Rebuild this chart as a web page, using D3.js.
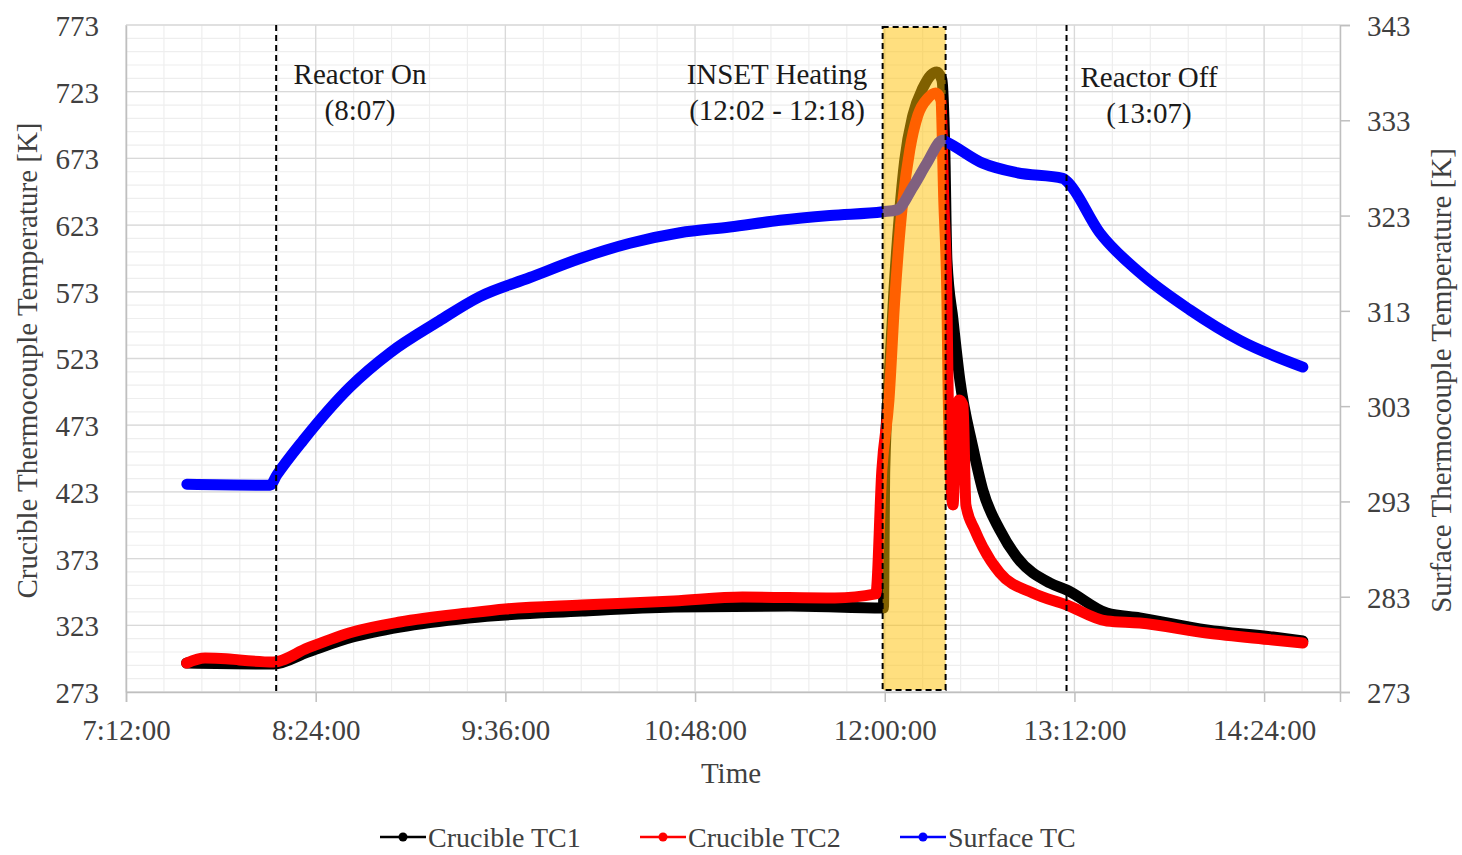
<!DOCTYPE html>
<html>
<head>
<meta charset="utf-8">
<script src="https://cdn.jsdelivr.net/npm/d3@7"></script>
<style>
  body { margin: 0; background: #fff; }
  svg { font-family: "Liberation Serif", "Times New Roman", serif; }
</style>
</head>
<body>
<div id="grafiek"></div>
<script>

// tijden en waarden
var tc1Tijd = ["7:35:00", "8:08:00", "8:21:00", "8:38:00", "8:56:00", "9:22:00", "10:05:00", "10:40:00",
  "11:24:00", "11:59:30", "12:00:00", "12:01:36", "12:03:30", "12:05:24", "12:07:36", "12:10:42",
  "12:14:30", "12:17:30", "12:19:48", "12:21:42", "12:22:48", "12:23:36", "12:25:54", "12:28:30",
  "12:33:24", "12:37:12", "12:43:42", "12:50:06", "13:02:42", "13:09:06", "13:24:18", "13:36:48",
  "14:02:12", "14:27:18", "14:38:42"];
var tc1Waarde = [294.7, 294.0, 303.0, 314.2, 321.7, 328.5, 333.7, 336.7,
  337.5, 336.0, 439.4, 506.9, 574.4, 626.8, 671.8, 705.5,
  725.8, 735.5, 737.8, 731.8, 679.3, 596.8, 551.9, 506.9,
  456.7, 424.4, 394.4, 374.2, 354.7, 349.5, 332.2, 328.5,
  319.5, 314.2, 311.2];

var tc2Tijd = ["7:35:00", "7:42:00", "7:50:00", "7:55:00", "8:08:00", "8:21:00", "8:38:00", "8:56:00",
  "9:22:00", "9:36:00", "10:05:00", "10:40:00", "11:06:00", "11:41:00", "11:56:36", "11:58:54",
  "12:01:36", "12:03:48", "12:06:54", "12:09:30", "12:12:36", "12:16:24", "12:19:24", "12:21:18",
  "12:22:24", "12:23:36", "12:24:00", "12:24:48", "12:25:54", "12:27:00", "12:28:12", "12:29:42",
  "12:30:48", "12:34:12", "12:37:12", "12:43:42", "12:56:12", "13:09:06", "13:24:18", "13:36:48",
  "14:02:12", "14:27:18", "14:38:42"];
var tc2Waarde = [294.7, 298.5, 298.0, 297.0, 295.5, 306.0, 318.0, 325.5,
  332.2, 335.2, 338.2, 341.2, 344.2, 343.5, 346.5, 439.4,
  491.9, 566.9, 641.8, 679.3, 705.5, 718.3, 722.0, 716.8,
  641.8, 566.9, 506.9, 439.4, 413.2, 469.4, 491.9, 488.2,
  413.2, 394.4, 381.7, 362.2, 347.2, 338.2, 326.2, 324.7,
  317.2, 312.0, 309.7];

var oppTijd = ["7:35:06", "8:06:40", "8:09:18", "8:19:12", "8:37:00", "8:52:12", "9:10:00", "9:26:20",
  "9:45:20", "10:04:20", "10:23:16", "10:42:14", "11:01:14", "11:20:12", "11:39:10", "11:59:18",
  "12:04:36", "12:10:42", "12:16:00", "12:22:00", "12:23:36", "12:37:12", "12:50:06", "13:07:36",
  "13:09:06", "13:21:36", "13:36:48", "13:55:48", "14:14:48", "14:38:42"];
var oppWaarde = [294.8, 294.7, 295.8, 299.4, 305.0, 308.6, 311.8, 314.5,
  316.5, 318.5, 320.1, 321.2, 321.8, 322.5, 323.0, 323.4,
  323.6, 326.0, 328.5, 330.9, 330.7, 328.5, 327.5, 326.9,
  326.6, 321.2, 317.0, 313.1, 309.9, 307.1];

var tijdLabels = ["7:12:00", "8:24:00", "9:36:00", "10:48:00", "12:00:00", "13:12:00", "14:24:00"];
var linksLabels = [273, 323, 373, 423, 473, 523, 573, 623, 673, 723, 773];
var rechtsLabels = [273, 283, 293, 303, 313, 323, 333, 343];

// gebeurtenissen (plaats zoals in de figuur)
var reactorAan = "8:09:00";
var reactorUit = "13:09:00";
var insetBegin = "11:59:12";
var insetEind = "12:23:06";

var breedte = 1462, hoogte = 855;
var marge = {boven: 25, beneden: 163, rechts: 122, links: 126};
var leesTijd = d3.timeParse("%H:%M:%S");

var x = d3.scaleTime()
          .domain([leesTijd("7:12:00"), leesTijd("14:52:48")])
          .range([marge.links, breedte - marge.rechts]);
var yLinks = d3.scaleLinear()
               .domain([273, 773])
               .range([hoogte - marge.beneden, marge.boven]);
var yRechts = d3.scaleLinear()
                .domain([273, 343])
                .range([hoogte - marge.beneden, marge.boven]);

var svg = d3.select("#grafiek")
            .append("svg")
            .attr("width", breedte)
            .attr("height", hoogte);

var onder = hoogte - marge.beneden;
var rechts = breedte - marge.rechts;

// minor rasterlijnen (10 K en 14,4 min)
var minorY = d3.range(273, 774, 10);
var start = leesTijd("7:12:00").getTime();
var minorX = d3.range(0, 33).map(function(i) { return new Date(start + i * 14.4 * 60000); });

svg.append("g").selectAll("line")
   .data(minorY).enter().append("line")
   .attr("x1", marge.links).attr("x2", rechts)
   .attr("y1", function(d) { return yLinks(d); })
   .attr("y2", function(d) { return yLinks(d); })
   .attr("stroke", "#eeeeee").attr("stroke-width", 1.2);

svg.append("g").selectAll("line")
   .data(minorX).enter().append("line")
   .attr("x1", function(d) { return x(d); })
   .attr("x2", function(d) { return x(d); })
   .attr("y1", marge.boven).attr("y2", onder)
   .attr("stroke", "#eeeeee").attr("stroke-width", 1.2);

// major rasterlijnen
svg.append("g").selectAll("line")
   .data(linksLabels).enter().append("line")
   .attr("x1", marge.links).attr("x2", rechts)
   .attr("y1", function(d) { return yLinks(d); })
   .attr("y2", function(d) { return yLinks(d); })
   .attr("stroke", "#d9d9d9").attr("stroke-width", 1.3);

svg.append("g").selectAll("line")
   .data(tijdLabels).enter().append("line")
   .attr("x1", function(d) { return x(leesTijd(d)); })
   .attr("x2", function(d) { return x(leesTijd(d)); })
   .attr("y1", marge.boven).attr("y2", onder)
   .attr("stroke", "#d9d9d9").attr("stroke-width", 1.3);

// assen
var asX = svg.append("g")
             .attr("transform", "translate(0," + onder + ")")
             .call(d3.axisBottom(x)
                     .tickValues(tijdLabels.map(leesTijd))
                     .tickFormat(function(d, i) { return tijdLabels[i]; })
                     .tickSize(10).tickPadding(17));

var asLinks = svg.append("g")
                 .attr("transform", "translate(" + marge.links + ",0)")
                 .call(d3.axisLeft(yLinks).tickValues(linksLabels).tickSize(0).tickPadding(27));

var asRechts = svg.append("g")
                  .attr("transform", "translate(" + rechts + ",0)")
                  .call(d3.axisRight(yRechts).tickValues(rechtsLabels).tickSize(10).tickPadding(17));

[asX, asLinks, asRechts].forEach(function(as) {
  as.select(".domain").attr("stroke", "#bfbfbf").attr("stroke-width", 1.5);
  as.selectAll(".tick line").attr("stroke", "#bfbfbf").attr("stroke-width", 1.5);
  as.selectAll(".tick text")
    .attr("fill", "#404040")
    .style("font-size", "29px")
    .style("font-family", "Liberation Serif");
});
asLinks.selectAll(".tick text").attr("dy", "0.36em");
asRechts.selectAll(".tick text").attr("dy", "0.36em");

// lijnen van de meetreeksen
function reeks(tijden, waarden) {
  return tijden.map(function(t, i) { return {tijd: leesTijd(t), waarde: waarden[i]}; });
}
function lijn(schaal) {
  return d3.line()
           .curve(d3.curveMonotoneX)
           .x(function(d) { return x(d.tijd); })
           .y(function(d) { return schaal(d.waarde); });
}

svg.append("path")
   .datum(reeks(tc1Tijd, tc1Waarde))
   .attr("d", lijn(yLinks))
   .attr("fill", "none").attr("stroke", "#000000")
   .attr("stroke-width", 11).attr("stroke-linejoin", "round").attr("stroke-linecap", "round");

svg.append("path")
   .datum(reeks(tc2Tijd, tc2Waarde))
   .attr("d", lijn(yLinks))
   .attr("fill", "none").attr("stroke", "#ff0000")
   .attr("stroke-width", 11).attr("stroke-linejoin", "round").attr("stroke-linecap", "round");

svg.append("path")
   .datum(reeks(oppTijd, oppWaarde))
   .attr("d", lijn(yRechts))
   .attr("fill", "none").attr("stroke", "#0000ff")
   .attr("stroke-width", 11).attr("stroke-linejoin", "round").attr("stroke-linecap", "round");

// INSET verwarmingsblok (half doorzichtig)
svg.append("rect")
   .attr("x", x(leesTijd(insetBegin)))
   .attr("y", marge.boven + 2)
   .attr("width", x(leesTijd(insetEind)) - x(leesTijd(insetBegin)))
   .attr("height", onder - marge.boven - 4)
   .attr("fill", "#ffc000").attr("fill-opacity", 0.5)
   .attr("stroke", "#000").attr("stroke-width", 2).attr("stroke-dasharray", "6,4");

// reactor aan / uit lijnen
[reactorAan, reactorUit].forEach(function(t) {
  svg.append("line")
     .attr("x1", x(leesTijd(t))).attr("x2", x(leesTijd(t)))
     .attr("y1", marge.boven).attr("y2", onder)
     .attr("stroke", "#000").attr("stroke-width", 2).attr("stroke-dasharray", "6,4");
});

// annotaties
var annotaties = [
  {tekst: ["Reactor On", "(8:07)"], x: 360, y: 84},
  {tekst: ["INSET Heating", "(12:02 - 12:18)"], x: 777, y: 84},
  {tekst: ["Reactor Off", "(13:07)"], x: 1149, y: 87}
];
annotaties.forEach(function(a) {
  var t = svg.append("text")
             .attr("text-anchor", "middle")
             .attr("fill", "#1a1a1a")
             .style("font-size", "29px");
  a.tekst.forEach(function(regel, i) {
    t.append("tspan").attr("x", a.x).attr("y", a.y + i * 36).text(regel);
  });
});

// as titels
svg.append("text")
   .attr("x", 731)
   .attr("y", 783)
   .attr("text-anchor", "middle")
   .attr("fill", "#404040")
   .style("font-size", "29px")
   .text("Time");

svg.append("text")
   .attr("transform", "translate(37," + ((marge.boven + onder) / 2 + 2) + ") rotate(-90)")
   .attr("text-anchor", "middle")
   .attr("fill", "#404040")
   .style("font-size", "29px")
   .text("Crucible Thermocouple Temperature [K]");

svg.append("text")
   .attr("transform", "translate(1451," + ((marge.boven + onder) / 2 + 22) + ") rotate(-90)")
   .attr("text-anchor", "middle")
   .attr("fill", "#404040")
   .style("font-size", "29px")
   .text("Surface Thermocouple Temperature [K]");

// legenda
var legendaNamen = ["Crucible TC1", "Crucible TC2", "Surface TC"];
var legendaKleuren = ["#000000", "#ff0000", "#0000ff"];
var legendaX = [380, 640, 900];

var legenda = svg.append("g").attr("class", "legend");
legendaNamen.forEach(function(naam, i) {
  var g = legenda.append("g").attr("transform", "translate(" + legendaX[i] + ",837)");
  g.append("line").attr("x1", 0).attr("x2", 46).attr("y1", 0).attr("y2", 0)
   .attr("stroke", legendaKleuren[i]).attr("stroke-width", 2.5);
  g.append("circle").attr("cx", 23).attr("cy", 0).attr("r", 4.5).attr("fill", legendaKleuren[i]);
  g.append("text").attr("x", 48).attr("y", 10)
   .attr("fill", "#404040").style("font-size", "28px").text(naam);
});

</script>
</body>
</html>
